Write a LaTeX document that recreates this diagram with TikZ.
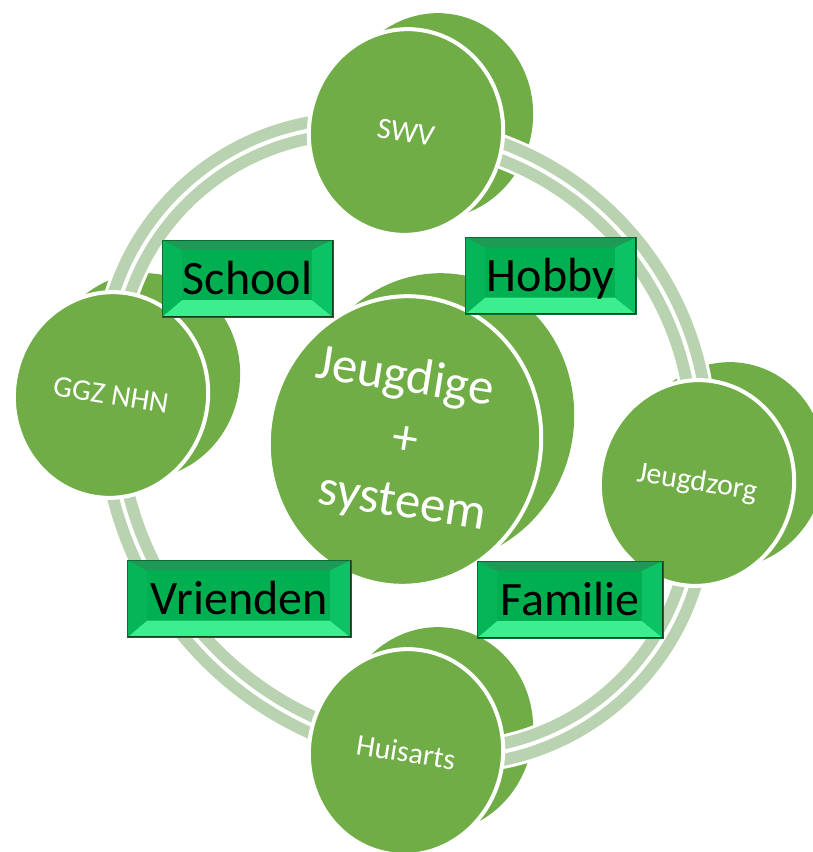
\documentclass[tikz,border=0pt]{standalone}
\usepackage{fontspec}
\setmainfont{Carlito}
\usetikzlibrary{shapes.geometric}
\definecolor{discgreen}{HTML}{70AD47}
\definecolor{ringgreen}{HTML}{B9D3B0}
\definecolor{boxface}{HTML}{00B050}
\definecolor{bevtop}{HTML}{1F9A56}
\definecolor{bevleft}{HTML}{07B559}
\definecolor{bevright}{HTML}{0BC264}
\definecolor{bevbot}{HTML}{3DEE8E}
\definecolor{boxedge}{HTML}{0C6B35}
\definecolor{boxdark}{HTML}{0A3F20}
\pgfdeclarelayer{back}
\pgfdeclarelayer{ring}
\pgfsetlayers{back,ring,main}
\newcommand\myringarc[4]{%
  \draw[ringedge] (#1) .. controls #2 and #3 .. (#4);
  \draw[ringband] (#1) .. controls #2 and #3 .. (#4);}
\begin{document}
\begin{tikzpicture}[x=1pt,y=-1pt,
  disc/.style={ellipse, fill=discgreen, draw=white, line width=4pt, text=white,
    inner sep=0pt, minimum width=194pt, minimum height=206pt, rotate=-9,
    font=\fontsize{30}{36}\selectfont},
  backdisc/.style={ellipse, fill=discgreen, inner sep=0pt,
    minimum width=194pt, minimum height=206pt, rotate=-9},
  bigdisc/.style={disc, minimum width=272pt, minimum height=290pt,
    align=center, font=\fontsize{51}{62}\selectfont},
  bigback/.style={backdisc, minimum width=272pt, minimum height=290pt},
  ringband/.style={draw=ringgreen, line width=12pt, double=white, double distance=4pt},
  ringedge/.style={draw=white, line width=34pt},
  labelbox/.style={rectangle, fill=boxface, draw=boxedge, line width=1pt,
    minimum height=77pt, text height=31pt, text depth=0pt, inner sep=0pt,
    text=black, font=\fontsize{48}{58}\selectfont,
    path picture={
      \fill[bevtop] (path picture bounding box.north west) -- (path picture bounding box.north east)
        -- ([shift={(-21pt,-10pt)}]path picture bounding box.north east)
        -- ([shift={(20pt,-10pt)}]path picture bounding box.north west) -- cycle;
      \fill[bevbot] (path picture bounding box.south west) -- (path picture bounding box.south east)
        -- ([shift={(-21pt,17pt)}]path picture bounding box.south east)
        -- ([shift={(20pt,17pt)}]path picture bounding box.south west) -- cycle;
      \fill[bevleft] (path picture bounding box.north west)
        -- ([shift={(20pt,-10pt)}]path picture bounding box.north west)
        -- ([shift={(20pt,17pt)}]path picture bounding box.south west)
        -- (path picture bounding box.south west) -- cycle;
      \fill[bevright] (path picture bounding box.north east)
        -- ([shift={(-21pt,-10pt)}]path picture bounding box.north east)
        -- ([shift={(-21pt,17pt)}]path picture bounding box.south east)
        -- (path picture bounding box.south east) -- cycle;
      \draw[boxdark, line width=3pt] (path picture bounding box.north east)
        -- (path picture bounding box.south east) -- (path picture bounding box.south west);
    }}
]
\useasboundingbox (0,0) rectangle (812,852);

% front discs
\node[disc] (swv) at (406,132) {SWV};
\node[disc] (ggz) at (111,395) {GGZ NHN};
\node[disc] (jz) at (697,483) {Jeugdzorg};
\node[disc] (ha) at (406,752) {Huisarts};
\node[bigdisc] (jeugd) at (405,441) {\hspace*{-20pt}Jeugdige\\+\\\hspace*{14pt}systeem};

% back discs
\begin{pgfonlayer}{back}
\node[backdisc] (swvb) at ([shift={(30pt,16pt)}]swv.center) {};
\node[backdisc] (ggzb) at ([shift={(32pt,19pt)}]ggz.center) {};
\node[backdisc] (jzb) at ([shift={(31pt,18pt)}]jz.center) {};
\node[backdisc] (hab) at ([shift={(30pt,22pt)}]ha.center) {};
\node[bigback] (jeugdb) at ([shift={(33pt,23pt)}]jeugd.center) {};
\end{pgfonlayer}

% ring
\begin{pgfonlayer}{ring}
\myringarc{ggz.center}{(94,230)}{(244,97)}{swv.center}
\myringarc{swv.center}{(588,140)}{(723,303)}{jz.center}
\myringarc{jz.center}{(716,648)}{(569,784)}{ha.center}
\myringarc{ha.center}{(230,728)}{(102,572)}{ggz.center}
\end{pgfonlayer}

% labels
\node[labelbox, minimum width=171pt] (school) at (247.5,278.5) {School};
\node[labelbox, minimum width=171pt] (hobby) at (550.5,276) {Hobby};
\node[labelbox, minimum width=224pt] (vrienden) at (239,599) {Vrienden};
\node[labelbox, minimum width=186pt] (familie) at (570,599.5) {Familie};
\end{tikzpicture}
\end{document}
